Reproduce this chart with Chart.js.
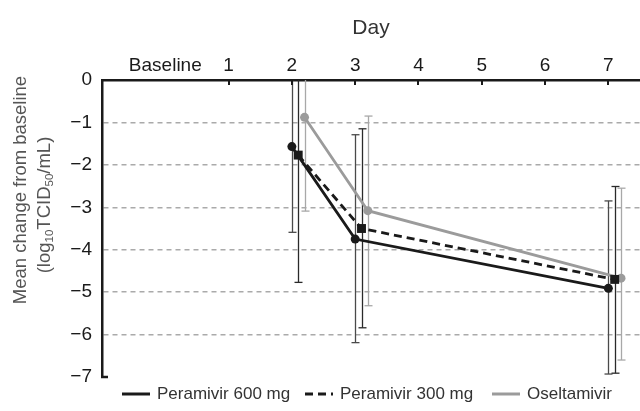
<!DOCTYPE html>
<html><head><meta charset="utf-8">
<script src="https://cdn.jsdelivr.net/npm/chart.js@4/dist/chart.umd.min.js"></script>
<style>html,body{margin:0;padding:0;background:#fff}#wrap{width:640px;height:411px}</style>
</head><body><div id="wrap"><canvas id="c" width="640" height="411"></canvas></div>
<script>
// ---- data ----
const days = [2, 3, 7];
const dayTicks = [0, 1, 2, 3, 4, 5, 6, 7];
const dayTickLabels = ['Baseline', '1', '2', '3', '4', '5', '6', '7'];
const yTicks = [0, -1, -2, -3, -4, -5, -6, -7];
const seriesNames = ['Peramivir 600 mg', 'Peramivir 300 mg', 'Oseltamivir'];
const p600Mean = [-1.57, -3.75, -4.91];
const p600Low  = [-3.59, -6.19, -6.93];
const p600High = [0.45, -1.29, -2.85];
const p300Mean = [-1.77, -3.50, -4.70];
const p300Low  = [-4.77, -5.84, -6.91];
const p300High = [1.23, -1.15, -2.51];
const oselMean = [-0.88, -3.08, -4.67];
const oselLow  = [-3.09, -5.32, -6.60];
const oselHigh = [1.33, -0.85, -2.55];

// ---- style ----
const dodge = [0, 0.1, 0.2];
const lineColors = ['#1a1a1a', '#1a1a1a', '#9b9b9b'];
const errColors = ['#4a4a4a', '#2a2a2a', '#a8a8a8'];
const FONT = "'Liberation Sans', Arial, sans-serif";

const means = [p600Mean, p300Mean, oselMean];
const lows = [p600Low, p300Low, oselLow];
const highs = [p600High, p300High, oselHigh];

function pts(i) { return days.map((d, j) => ({ x: d + dodge[i], y: means[i][j] })); }

const errorBars = {
  id: 'errorBars',
  beforeDatasetsDraw(chart) {
    const { ctx, chartArea: a, scales: { x, y } } = chart;
    ctx.save();
    for (let i = 0; i < means.length; i++) {
      ctx.strokeStyle = errColors[i];
      ctx.lineWidth = 1.3;
      for (let j = 0; j < days.length; j++) {
        const px = Math.round(x.getPixelForValue(days[j] + dodge[i])) + 0.5;
        const yl = y.getPixelForValue(lows[i][j]);
        const yh = y.getPixelForValue(highs[i][j]);
        const top = Math.max(yh, a.top), bot = Math.min(yl, a.bottom);
        ctx.beginPath(); ctx.moveTo(px, top); ctx.lineTo(px, bot); ctx.stroke();
        [yl, yh].forEach(v => {
          if (v >= a.top && v <= a.bottom) {
            ctx.beginPath(); ctx.moveTo(px - 4, v); ctx.lineTo(px + 4, v); ctx.stroke();
          }
        });
      }
    }
    ctx.restore();
  }
};

const extras = {
  id: 'extras',
  afterDraw(chart) {
    const { ctx, chartArea: a, scales: { x, y } } = chart;
    ctx.save();
    // inward ticks on top axis
    ctx.strokeStyle = '#1a1a1a'; ctx.lineWidth = 2;
    dayTicks.slice(1).forEach(d => {
      const px = Math.round(x.getPixelForValue(d));
      ctx.beginPath(); ctx.moveTo(px, a.top); ctx.lineTo(px, a.top + 5); ctx.stroke();
    });
    // stub at bottom of y axis
    ctx.lineWidth = 2.5;
    ctx.beginPath(); ctx.moveTo(a.left - 1, a.bottom); ctx.lineTo(a.left + 6, a.bottom); ctx.stroke();

    // y-axis title
    ctx.save();
    ctx.translate(21, 190);
    ctx.rotate(-Math.PI / 2);
    ctx.fillStyle = '#555';
    ctx.textBaseline = 'middle';
    ctx.textAlign = 'center';
    ctx.font = '18.5px ' + FONT;
    ctx.fillText('Mean change from baseline', 0, 0);
    ctx.restore();

    ctx.save();
    ctx.translate(45, 205);
    ctx.rotate(-Math.PI / 2);
    ctx.fillStyle = '#555';
    ctx.textBaseline = 'middle';
    ctx.textAlign = 'left';
    const parts = [['(log', false], ['10', true], ['TCID', false], ['50', true], ['/mL)', false]];
    const big = '18.5px ' + FONT, small = '11.5px ' + FONT;
    let w = 0;
    parts.forEach(p => { ctx.font = p[1] ? small : big; w += ctx.measureText(p[0]).width; });
    let cx = -w / 2;
    parts.forEach(p => {
      ctx.font = p[1] ? small : big;
      ctx.fillText(p[0], cx, p[1] ? 5 : 0);
      cx += ctx.measureText(p[0]).width;
    });
    ctx.restore();

    // legend
    const lx = [122, 305, 492];
    const ly = 394;
    ctx.font = '17px ' + FONT;
    ctx.textBaseline = 'middle';
    ctx.textAlign = 'left';
    chart.data.datasets.forEach((ds, i) => {
      ctx.strokeStyle = ds.borderColor;
      ctx.lineWidth = 3;
      ctx.setLineDash(ds.borderDash || []);
      ctx.beginPath(); ctx.moveTo(lx[i], ly); ctx.lineTo(lx[i] + 28, ly); ctx.stroke();
      ctx.setLineDash([]);
      ctx.fillStyle = '#333';
      ctx.fillText(ds.label, lx[i] + 35, ly);
    });
    ctx.restore();
  }
};

new Chart(document.getElementById('c'), {
  type: 'line',
  data: {
    datasets: [
      { label: seriesNames[0], data: pts(0), borderColor: lineColors[0], backgroundColor: lineColors[0],
        borderWidth: 2.8, pointStyle: 'circle', pointRadius: 4.5, pointBackgroundColor: lineColors[0],
        pointBorderWidth: 0, tension: 0, order: 1 },
      { label: seriesNames[1], data: pts(1), borderColor: lineColors[1], backgroundColor: lineColors[1],
        borderWidth: 2.8, borderDash: [8, 5], pointStyle: 'rect', pointRadius: 6.3,
        pointBackgroundColor: lineColors[1], pointBorderWidth: 0, tension: 0, order: 2 },
      { label: seriesNames[2], data: pts(2), borderColor: lineColors[2], backgroundColor: lineColors[2],
        borderWidth: 2.8, pointStyle: 'circle', pointRadius: 4.5, pointBackgroundColor: lineColors[2],
        pointBorderWidth: 0, tension: 0, order: 3 }
    ]
  },
  options: {
    responsive: false,
    animation: false,
    layout: { autoPadding: false, padding: { top: 0, left: 0, right: 0, bottom: 34 } },
    plugins: { legend: { display: false }, tooltip: { enabled: false } },
    scales: {
      x: {
        type: 'linear', position: 'top', min: -1, max: 7.5,
        afterBuildTicks: s => { s.ticks = dayTicks.map(v => ({ value: v })); },
        afterFit: s => { s.height = 80; s.paddingLeft = 0; s.paddingRight = 0; },
        ticks: {
          autoSkip: false, maxRotation: 0, padding: 3, color: '#1a1a1a',
          font: { family: FONT, size: 19 },
          callback: v => dayTickLabels[dayTicks.indexOf(v)]
        },
        grid: { display: false, drawTicks: false },
        border: { display: true, color: '#1a1a1a', width: 2.5 },
        title: { display: true, text: 'Day', color: '#333', font: { family: FONT, size: 21 }, padding: { top: 16, bottom: 0 } }
      },
      y: {
        type: 'linear', min: -7, max: 0,
        afterBuildTicks: s => { s.ticks = yTicks.map(v => ({ value: v })); },
        afterFit: s => { s.width = 102; },
        ticks: {
          padding: 10, color: '#1a1a1a', font: { family: FONT, size: 19 },
          callback: v => (v === 0 ? '0' : '\u2212' + Math.abs(v))
        },
        grid: {
          drawTicks: false, lineWidth: 1.5,
          color: c => (c.tick && c.tick.value < 0 && c.tick.value > -7) ? '#aaaaaa' : 'rgba(0,0,0,0)'
        },
        border: { display: true, color: '#1a1a1a', width: 2.5, dash: [5, 4] }
      }
    }
  },
  plugins: [errorBars, extras]
});
</script></body></html>
